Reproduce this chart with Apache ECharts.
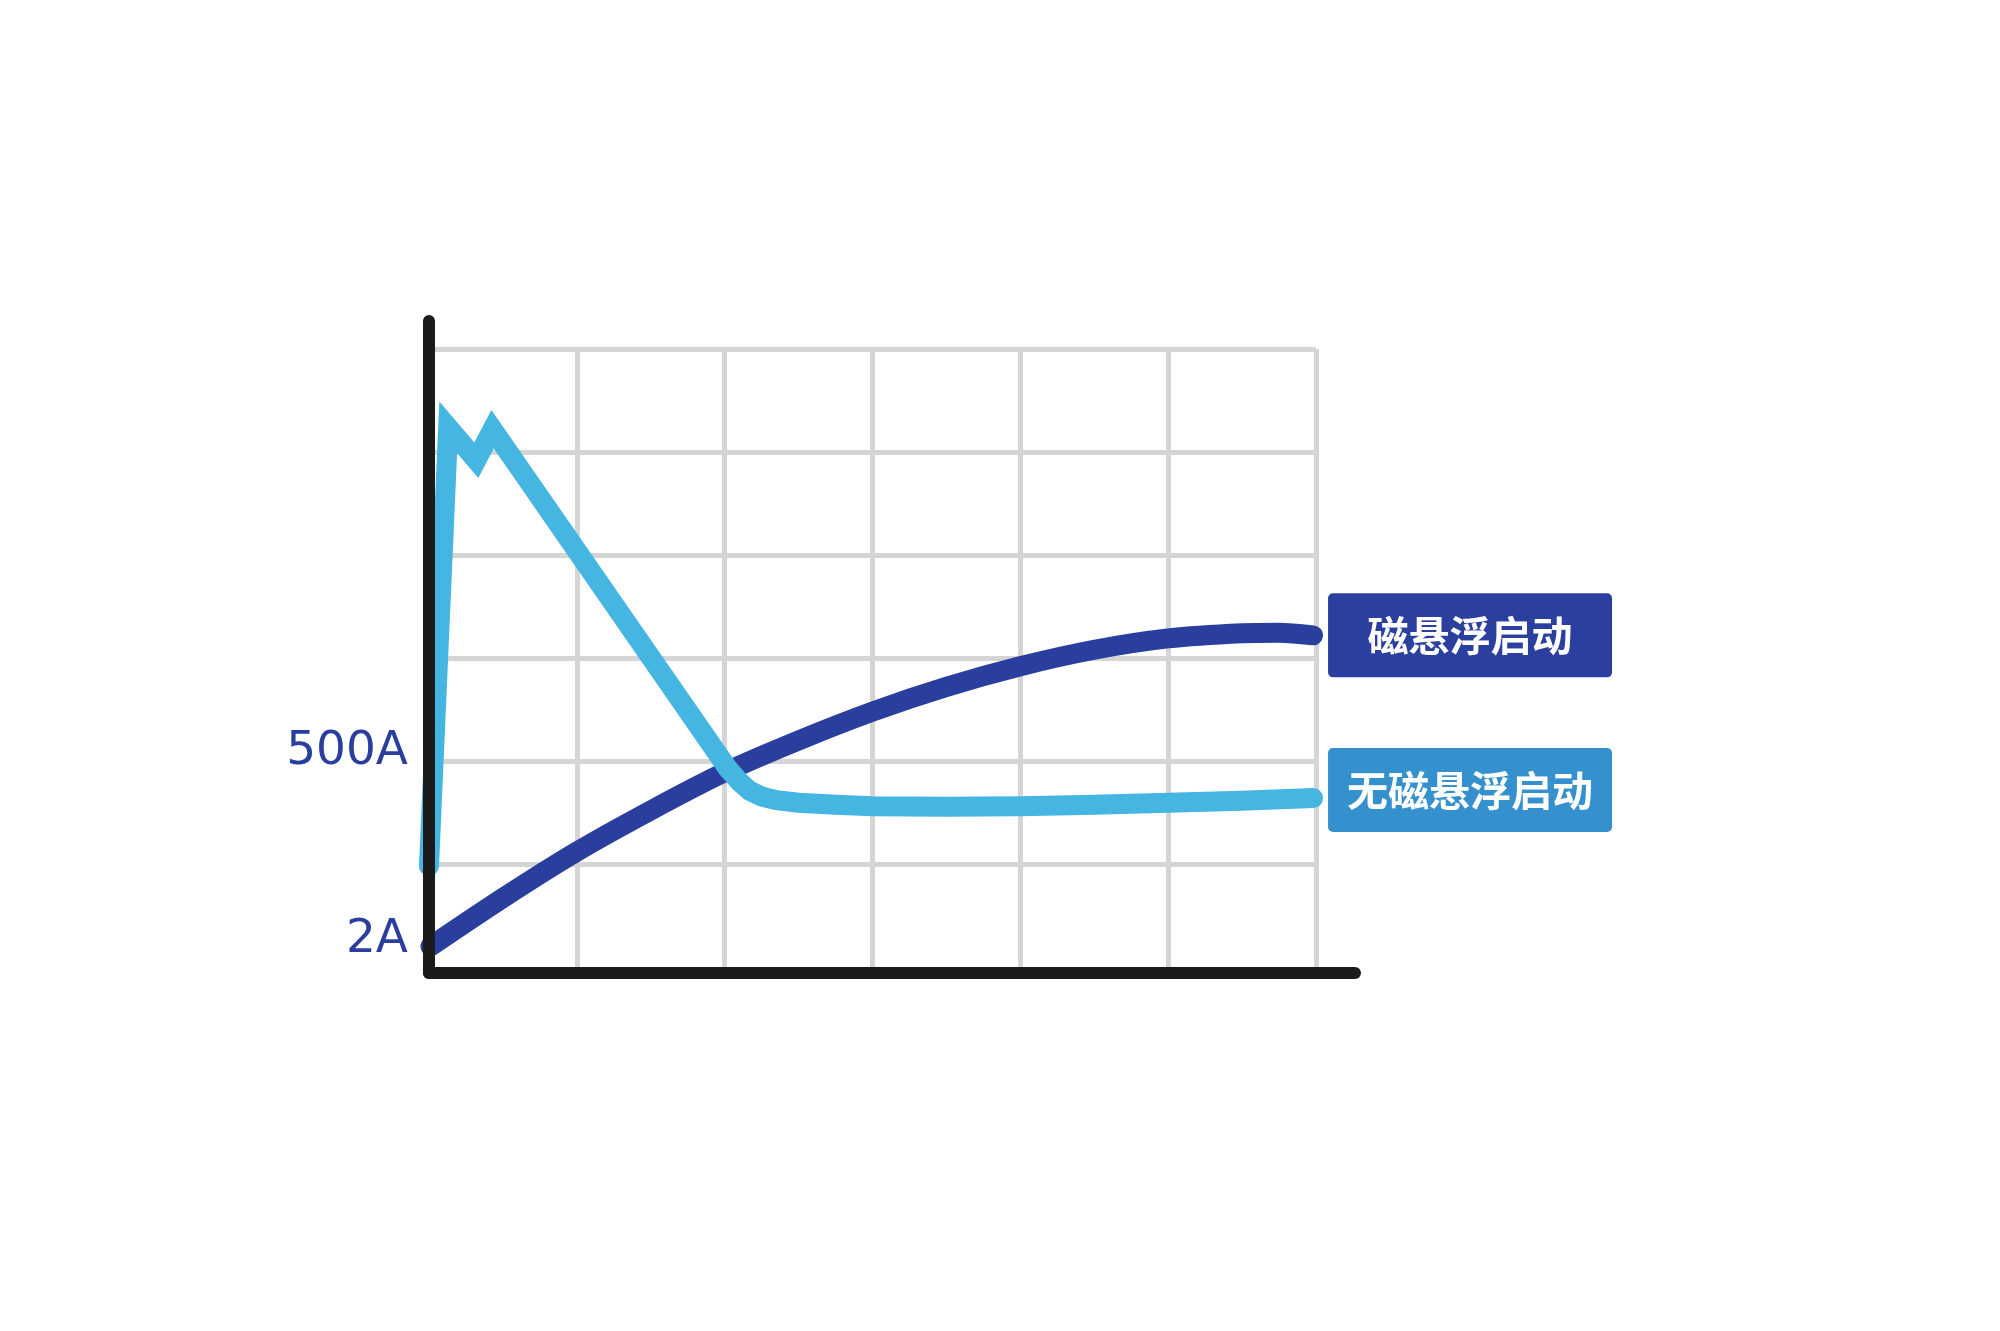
<!DOCTYPE html>
<html>
<head>
<meta charset="utf-8">
<script src="https://cdn.jsdelivr.net/npm/echarts@6/dist/echarts.min.js"></script>
<style>
html,body{margin:0;padding:0;background:#ffffff;overflow:hidden;}
#c{width:2000px;height:1331px;}
</style>
</head>
<body>
<div id="c"></div>
<script>
// ---- data (x in grid columns 0..6, y in grid rows 0..6) ----
const seriesNames = ['磁悬浮启动', '无磁悬浮启动'];

const maglevX = [0.01, 0.5, 1.0, 1.5, 2.0, 2.5, 3.0, 3.5, 4.0, 4.5, 5.0, 5.5, 5.75, 5.98];
const maglevY = [0.20, 0.67, 1.12, 1.52, 1.89, 2.20, 2.48, 2.72, 2.92, 3.08, 3.19, 3.24, 3.245, 3.22];

const noMaglevX = [0.0, 0.13, 0.32, 0.43, 2.02, 2.10, 2.17, 2.25, 2.35, 2.5, 2.75, 3.0, 3.5, 4.0, 4.5, 5.0, 5.5, 5.98];
const noMaglevY = [0.98, 5.24, 4.92, 5.22, 1.93, 1.80, 1.71, 1.655, 1.62, 1.595, 1.575, 1.56, 1.555, 1.56, 1.575, 1.595, 1.615, 1.64];

const yTickValues = [0.26, 2.09];
const yTickLabels = ['2A', '500A'];

const chart = echarts.init(document.getElementById('c'), null, {renderer: 'canvas'});

function boxRich(bg) {
  return {
    box: {
      width: 284, height: 84, lineHeight: 84,
      align: 'center', verticalAlign: 'middle',
      backgroundColor: bg, borderRadius: 5,
      color: '#ffffff', fontSize: 41, fontWeight: 'bold',
      fontFamily: '"Noto Sans CJK SC", sans-serif'
    }
  };
}

const gridLine = {show: true, showMinLine: false, showMaxLine: true, lineStyle: {color: '#d5d5d5', width: 5}};

const option = {
  backgroundColor: '#ffffff',
  animation: false,
  grid: [
    {left: 429, right: 684, top: 349, bottom: 364},
    {left: 429, right: 645, top: 321, bottom: 358}
  ],
  xAxis: [
    {gridIndex: 0, type: 'value', min: 0, max: 6, interval: 1,
     axisLine: {show: false}, axisTick: {show: false}, axisLabel: {show: false},
     splitLine: gridLine},
    {gridIndex: 1, type: 'value', min: 0, max: 1, z: 10,
     axisLine: {show: true, onZero: false, lineStyle: {color: '#1b1b1b', width: 12, cap: 'round'}},
     axisTick: {show: false}, axisLabel: {show: false}, splitLine: {show: false}}
  ],
  yAxis: [
    {gridIndex: 0, type: 'value', min: 0, max: 6, interval: 1,
     axisLine: {show: false}, axisTick: {show: false},
     axisLabel: {
       show: true, customValues: yTickValues, margin: 21,
       color: '#2a3e9d', fontSize: 47, fontFamily: '"DejaVu Sans", sans-serif',
       formatter: function (v) {
         for (let i = 0; i < yTickValues.length; i++) {
           if (Math.abs(yTickValues[i] - v) < 1e-6) return yTickLabels[i];
         }
         return '';
       }
     },
     splitLine: gridLine},
    {gridIndex: 1, type: 'value', min: 0, max: 1, z: 10,
     axisLine: {show: true, onZero: false, lineStyle: {color: '#1b1b1b', width: 12, cap: 'round'}},
     axisTick: {show: false}, axisLabel: {show: false}, splitLine: {show: false}}
  ],
  series: [
    {
      name: seriesNames[0], type: 'line', xAxisIndex: 0, yAxisIndex: 0,
      data: maglevX.map((x, i) => [x, maglevY[i]]),
      smooth: 0.3, showSymbol: false, clip: false, z: 3,
      lineStyle: {color: '#2a3e9d', width: 20, cap: 'round', join: 'round'},
      endLabel: {show: true, distance: 15, formatter: '{box|{a}}', rich: boxRich('#2b3f9f')}
    },
    {
      name: seriesNames[1], type: 'line', xAxisIndex: 0, yAxisIndex: 0,
      data: noMaglevX.map((x, i) => [x, noMaglevY[i]]),
      smooth: false, showSymbol: false, clip: false, z: 4,
      lineStyle: {color: '#45b5e1', width: 20, cap: 'round', join: 'miter'},
      endLabel: {show: true, distance: 15, offset: [0, -8], formatter: '{box|{a}}', rich: boxRich('#3591cd')}
    }
  ]
};
chart.setOption(option);
</script>
</body>
</html>
